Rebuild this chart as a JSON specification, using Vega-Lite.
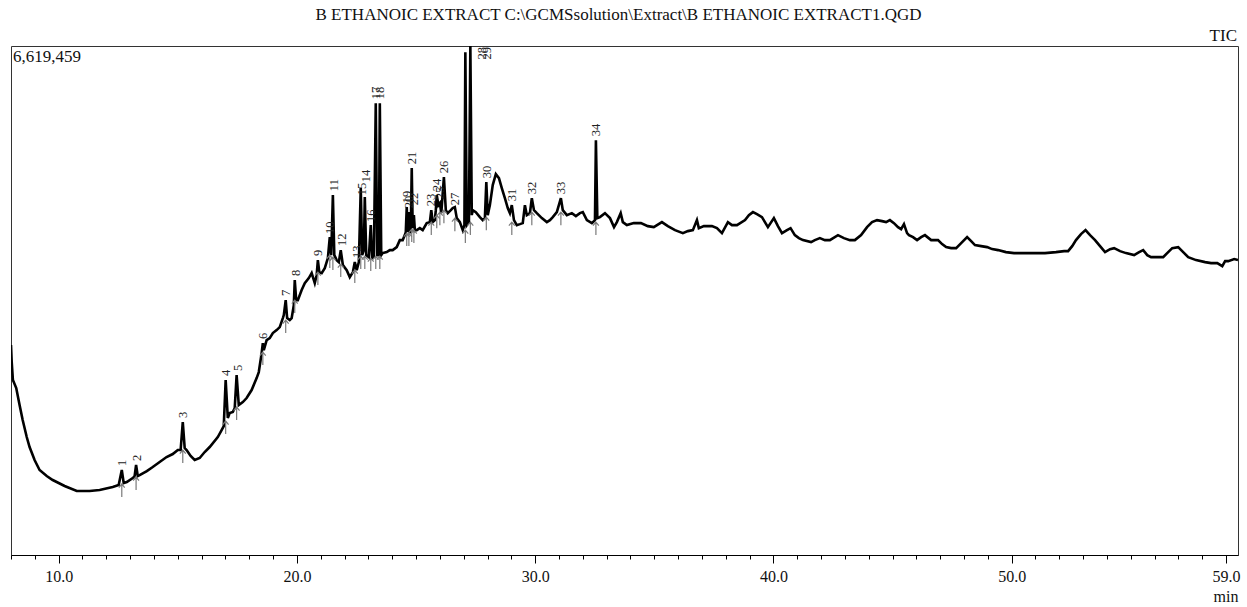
{
  "$schema": "https://vega.github.io/schema/vega-lite/v6.json",
  "autosize": "none",
  "padding": {"left": 11, "top": 46, "right": 9, "bottom": 52},
  "width": 1227,
  "height": 509,
  "background": "white",
  "title": {"text": "B ETHANOIC EXTRACT C:\\GCMSsolution\\Extract\\B ETHANOIC EXTRACT1.QGD", "font": "Liberation Serif", "fontSize": 17, "fontWeight": "normal", "color": "#111", "anchor": "middle", "frame": "group", "baseline": "alphabetic", "offset": -10, "dx": -6},
  "config": {"view": {"stroke": "#333", "strokeWidth": 1}},
  "datasets": {
    "curve": [
      {"t":8.00,"v":2730000},{"t":8.03,"v":2509000},{"t":8.08,"v":2275000},{"t":8.22,"v":2171000},{"t":8.36,"v":1950000},{"t":8.49,"v":1755000},{"t":8.66,"v":1534000},{"t":8.78,"v":1404000},{"t":8.99,"v":1235000},{"t":9.20,"v":1105000},{"t":9.50,"v":1027000},{"t":9.75,"v":975000},{"t":10.25,"v":897000},{"t":10.76,"v":832000},{"t":11.30,"v":832000},{"t":11.72,"v":845000},{"t":12.27,"v":884000},{"t":12.52,"v":910000},{"t":12.65,"v":1105000},{"t":12.73,"v":936000},{"t":12.86,"v":949000},{"t":13.11,"v":1001000},{"t":13.19,"v":1027000},{"t":13.25,"v":1170000},{"t":13.32,"v":1027000},{"t":13.40,"v":1040000},{"t":13.70,"v":1092000},{"t":13.95,"v":1144000},{"t":14.24,"v":1209000},{"t":14.53,"v":1274000},{"t":14.79,"v":1313000},{"t":15.00,"v":1365000},{"t":15.12,"v":1365000},{"t":15.21,"v":1729000},{"t":15.29,"v":1391000},{"t":15.37,"v":1365000},{"t":15.54,"v":1287000},{"t":15.71,"v":1235000},{"t":15.92,"v":1261000},{"t":16.13,"v":1339000},{"t":16.34,"v":1404000},{"t":16.68,"v":1534000},{"t":16.84,"v":1625000},{"t":16.93,"v":1677000},{"t":17.01,"v":2275000},{"t":17.10,"v":1781000},{"t":17.18,"v":1846000},{"t":17.31,"v":1859000},{"t":17.39,"v":1911000},{"t":17.47,"v":2340000},{"t":17.56,"v":1950000},{"t":17.73,"v":1989000},{"t":17.89,"v":2041000},{"t":18.10,"v":2145000},{"t":18.31,"v":2301000},{"t":18.40,"v":2379000},{"t":18.52,"v":2626000},{"t":18.57,"v":2756000},{"t":18.61,"v":2665000},{"t":18.73,"v":2795000},{"t":18.86,"v":2821000},{"t":18.99,"v":2886000},{"t":19.15,"v":2925000},{"t":19.28,"v":2964000},{"t":19.41,"v":3081000},{"t":19.45,"v":3120000},{"t":19.53,"v":3315000},{"t":19.59,"v":3081000},{"t":19.70,"v":3055000},{"t":19.78,"v":3081000},{"t":19.87,"v":3250000},{"t":19.91,"v":3575000},{"t":19.97,"v":3315000},{"t":20.04,"v":3315000},{"t":20.20,"v":3445000},{"t":20.33,"v":3536000},{"t":20.50,"v":3601000},{"t":20.62,"v":3666000},{"t":20.75,"v":3536000},{"t":20.83,"v":3640000},{"t":20.88,"v":3835000},{"t":20.94,"v":3679000},{"t":21.04,"v":3666000},{"t":21.17,"v":3731000},{"t":21.30,"v":3861000},{"t":21.38,"v":4134000},{"t":21.44,"v":3900000},{"t":21.51,"v":4680000},{"t":21.57,"v":3900000},{"t":21.67,"v":3835000},{"t":21.76,"v":3809000},{"t":21.84,"v":3965000},{"t":21.93,"v":3770000},{"t":22.09,"v":3705000},{"t":22.22,"v":3614000},{"t":22.35,"v":3679000},{"t":22.43,"v":3809000},{"t":22.51,"v":3705000},{"t":22.60,"v":3809000},{"t":22.68,"v":4771000},{"t":22.74,"v":3900000},{"t":22.81,"v":3965000},{"t":22.85,"v":4654000},{"t":22.91,"v":3900000},{"t":23.02,"v":3874000},{"t":23.10,"v":4290000},{"t":23.16,"v":3861000},{"t":23.23,"v":3874000},{"t":23.31,"v":5876000},{"t":23.37,"v":3900000},{"t":23.44,"v":3900000},{"t":23.48,"v":5876000},{"t":23.54,"v":3900000},{"t":23.60,"v":3926000},{"t":23.77,"v":3939000},{"t":23.90,"v":3965000},{"t":24.02,"v":3965000},{"t":24.19,"v":4004000},{"t":24.32,"v":4095000},{"t":24.44,"v":4095000},{"t":24.53,"v":4160000},{"t":24.57,"v":4199000},{"t":24.61,"v":4524000},{"t":24.65,"v":4199000},{"t":24.70,"v":4459000},{"t":24.74,"v":4186000},{"t":24.78,"v":4225000},{"t":24.82,"v":5031000},{"t":24.86,"v":4251000},{"t":24.91,"v":4420000},{"t":24.95,"v":4225000},{"t":25.03,"v":4225000},{"t":25.16,"v":4251000},{"t":25.28,"v":4225000},{"t":25.45,"v":4316000},{"t":25.58,"v":4329000},{"t":25.64,"v":4485000},{"t":25.70,"v":4329000},{"t":25.79,"v":4355000},{"t":25.83,"v":4485000},{"t":25.87,"v":4680000},{"t":25.94,"v":4550000},{"t":26.00,"v":4576000},{"t":26.06,"v":4446000},{"t":26.17,"v":4914000},{"t":26.25,"v":4485000},{"t":26.33,"v":4446000},{"t":26.46,"v":4485000},{"t":26.54,"v":4511000},{"t":26.63,"v":4524000},{"t":26.71,"v":4381000},{"t":26.84,"v":4329000},{"t":26.96,"v":4225000},{"t":27.03,"v":4290000},{"t":27.07,"v":6539000},{"t":27.13,"v":4290000},{"t":27.22,"v":4329000},{"t":27.28,"v":6619459},{"t":27.34,"v":4420000},{"t":27.38,"v":4485000},{"t":27.51,"v":4459000},{"t":27.68,"v":4394000},{"t":27.80,"v":4355000},{"t":27.89,"v":4381000},{"t":27.95,"v":4849000},{"t":28.01,"v":4420000},{"t":28.10,"v":4550000},{"t":28.22,"v":4810000},{"t":28.35,"v":4953000},{"t":28.48,"v":4901000},{"t":28.60,"v":4771000},{"t":28.73,"v":4641000},{"t":28.85,"v":4511000},{"t":28.94,"v":4446000},{"t":29.02,"v":4550000},{"t":29.11,"v":4355000},{"t":29.23,"v":4290000},{"t":29.36,"v":4303000},{"t":29.48,"v":4316000},{"t":29.57,"v":4550000},{"t":29.65,"v":4420000},{"t":29.78,"v":4446000},{"t":29.86,"v":4641000},{"t":29.95,"v":4485000},{"t":30.07,"v":4446000},{"t":30.28,"v":4381000},{"t":30.49,"v":4329000},{"t":30.62,"v":4355000},{"t":30.74,"v":4394000},{"t":30.91,"v":4459000},{"t":31.08,"v":4641000},{"t":31.16,"v":4485000},{"t":31.33,"v":4420000},{"t":31.54,"v":4446000},{"t":31.71,"v":4407000},{"t":31.88,"v":4446000},{"t":32.00,"v":4459000},{"t":32.17,"v":4355000},{"t":32.38,"v":4316000},{"t":32.51,"v":4355000},{"t":32.55,"v":5395000},{"t":32.61,"v":4381000},{"t":32.72,"v":4394000},{"t":32.93,"v":4446000},{"t":33.14,"v":4381000},{"t":33.31,"v":4264000},{"t":33.43,"v":4329000},{"t":33.59,"v":4446000},{"t":33.68,"v":4329000},{"t":33.85,"v":4290000},{"t":34.14,"v":4316000},{"t":34.44,"v":4316000},{"t":34.73,"v":4277000},{"t":34.98,"v":4264000},{"t":35.32,"v":4329000},{"t":35.57,"v":4277000},{"t":35.87,"v":4225000},{"t":36.20,"v":4186000},{"t":36.41,"v":4212000},{"t":36.62,"v":4225000},{"t":36.79,"v":4355000},{"t":36.87,"v":4251000},{"t":37.08,"v":4277000},{"t":37.42,"v":4277000},{"t":37.63,"v":4251000},{"t":37.84,"v":4186000},{"t":38.09,"v":4329000},{"t":38.26,"v":4290000},{"t":38.47,"v":4290000},{"t":38.81,"v":4355000},{"t":38.97,"v":4420000},{"t":39.14,"v":4459000},{"t":39.31,"v":4433000},{"t":39.52,"v":4394000},{"t":39.77,"v":4264000},{"t":40.02,"v":4381000},{"t":40.19,"v":4277000},{"t":40.36,"v":4186000},{"t":40.57,"v":4225000},{"t":40.72,"v":4251000},{"t":40.90,"v":4160000},{"t":41.07,"v":4121000},{"t":41.24,"v":4095000},{"t":41.58,"v":4069000},{"t":41.74,"v":4095000},{"t":41.95,"v":4121000},{"t":42.16,"v":4095000},{"t":42.37,"v":4095000},{"t":42.71,"v":4160000},{"t":42.96,"v":4121000},{"t":43.21,"v":4095000},{"t":43.42,"v":4095000},{"t":43.68,"v":4160000},{"t":43.93,"v":4264000},{"t":44.14,"v":4329000},{"t":44.35,"v":4355000},{"t":44.56,"v":4342000},{"t":44.73,"v":4329000},{"t":44.89,"v":4355000},{"t":45.06,"v":4316000},{"t":45.23,"v":4264000},{"t":45.36,"v":4238000},{"t":45.48,"v":4303000},{"t":45.61,"v":4186000},{"t":45.69,"v":4160000},{"t":45.86,"v":4134000},{"t":46.03,"v":4095000},{"t":46.20,"v":4134000},{"t":46.36,"v":4160000},{"t":46.62,"v":4095000},{"t":46.91,"v":4095000},{"t":47.08,"v":4043000},{"t":47.25,"v":4004000},{"t":47.46,"v":3991000},{"t":47.67,"v":3991000},{"t":47.88,"v":4056000},{"t":48.13,"v":4134000},{"t":48.30,"v":4082000},{"t":48.46,"v":4030000},{"t":48.72,"v":4017000},{"t":48.97,"v":4004000},{"t":49.18,"v":3978000},{"t":49.43,"v":3965000},{"t":49.76,"v":3939000},{"t":50.10,"v":3926000},{"t":50.52,"v":3926000},{"t":50.98,"v":3926000},{"t":51.40,"v":3926000},{"t":51.86,"v":3939000},{"t":52.20,"v":3952000},{"t":52.37,"v":3952000},{"t":52.54,"v":4017000},{"t":52.70,"v":4095000},{"t":52.91,"v":4173000},{"t":53.10,"v":4225000},{"t":53.29,"v":4160000},{"t":53.50,"v":4095000},{"t":53.71,"v":4017000},{"t":53.92,"v":3939000},{"t":54.13,"v":3978000},{"t":54.30,"v":3991000},{"t":54.55,"v":3952000},{"t":54.80,"v":3926000},{"t":55.14,"v":3900000},{"t":55.35,"v":3939000},{"t":55.52,"v":3965000},{"t":55.69,"v":3900000},{"t":55.85,"v":3874000},{"t":56.11,"v":3874000},{"t":56.36,"v":3874000},{"t":56.57,"v":3939000},{"t":56.74,"v":3991000},{"t":56.99,"v":4004000},{"t":57.20,"v":3939000},{"t":57.41,"v":3874000},{"t":57.74,"v":3835000},{"t":58.12,"v":3809000},{"t":58.37,"v":3796000},{"t":58.63,"v":3796000},{"t":58.84,"v":3757000},{"t":58.96,"v":3822000},{"t":59.09,"v":3822000},{"t":59.34,"v":3848000},{"t":59.50,"v":3835000}
    ],
    "peaks": [
      {"peak":1,"t":12.65,"base":923000},{"peak":2,"t":13.25,"base":1014000},{"peak":3,"t":15.21,"base":1365000},{"peak":4,"t":17.01,"base":1742000},{"peak":5,"t":17.47,"base":1924000},{"peak":6,"t":18.57,"base":2639000},{"peak":7,"t":19.53,"base":3055000},{"peak":8,"t":19.91,"base":3315000},{"peak":9,"t":20.88,"base":3679000},{"peak":10,"t":21.38,"base":3900000},{"peak":11,"t":21.51,"base":3874000},{"peak":12,"t":21.84,"base":3783000},{"peak":13,"t":22.43,"base":3705000},{"peak":14,"t":22.68,"base":3887000},{"peak":15,"t":22.85,"base":3887000},{"peak":16,"t":23.10,"base":3861000},{"peak":17,"t":23.31,"base":3887000},{"peak":18,"t":23.48,"base":3887000},{"peak":19,"t":24.61,"base":4186000},{"peak":20,"t":24.70,"base":4186000},{"peak":21,"t":24.82,"base":4238000},{"peak":22,"t":24.91,"base":4225000},{"peak":23,"t":25.64,"base":4329000},{"peak":24,"t":25.87,"base":4420000},{"peak":25,"t":26.00,"base":4459000},{"peak":26,"t":26.17,"base":4485000},{"peak":27,"t":26.63,"base":4381000},{"peak":28,"t":27.07,"base":4225000},{"peak":29,"t":27.28,"base":4329000},{"peak":30,"t":27.95,"base":4394000},{"peak":31,"t":29.02,"base":4329000},{"peak":32,"t":29.86,"base":4459000},{"peak":33,"t":31.08,"base":4459000},{"peak":34,"t":32.55,"base":4329000}
    ],
    "labels": [
      {"peak":1,"t":12.65,"v":1131000},{"peak":2,"t":13.28,"v":1196000},{"peak":3,"t":15.21,"v":1755000},{"peak":4,"t":17.01,"v":2301000},{"peak":5,"t":17.52,"v":2366000},{"peak":6,"t":18.57,"v":2782000},{"peak":7,"t":19.53,"v":3341000},{"peak":8,"t":19.95,"v":3601000},{"peak":9,"t":20.88,"v":3861000},{"peak":10,"t":21.38,"v":4147000},{"peak":11,"t":21.55,"v":4706000},{"peak":12,"t":21.88,"v":3991000},{"peak":13,"t":22.51,"v":3835000},{"peak":14,"t":22.89,"v":4823000},{"peak":15,"t":22.72,"v":4654000},{"peak":16,"t":23.10,"v":4303000},{"peak":17,"t":23.31,"v":5902000},{"peak":18,"t":23.48,"v":5902000},{"peak":19,"t":24.61,"v":4550000},{"peak":20,"t":24.70,"v":4485000},{"peak":21,"t":24.82,"v":5057000},{"peak":22,"t":24.91,"v":4524000},{"peak":23,"t":25.64,"v":4511000},{"peak":24,"t":25.87,"v":4706000},{"peak":25,"t":26.00,"v":4602000},{"peak":26,"t":26.17,"v":4940000},{"peak":27,"t":26.63,"v":4524000},{"peak":28,"t":27.76,"v":6619459},{"peak":29,"t":27.97,"v":6619459},{"peak":30,"t":27.97,"v":4875000},{"peak":31,"t":29.02,"v":4576000},{"peak":32,"t":29.86,"v":4667000},{"peak":33,"t":31.08,"v":4667000},{"peak":34,"t":32.55,"v":5421000}
    ],
    "notes": [
      {"t":59.5,"v":6619459,"text":"TIC","pos":"tic"},
      {"t":8.0,"v":6619459,"text":"6,619,459","pos":"max"}
    ]
  },
  "encoding": {
    "x": {"field": "t", "type": "quantitative", "scale": {"domain": [8.0, 59.5], "nice": false, "zero": false},
      "axis": {
        "values": [8,9,10,11,12,13,14,15,16,17,18,19,20,21,22,23,24,25,26,27,28,29,30,31,32,33,34,35,36,37,38,39,40,41,42,43,44,45,46,47,48,49,50,51,52,53,54,55,56,57,58,59],
        "labelExpr": "indexof([10,20,30,40,50,59], datum.value) >= 0 ? format(datum.value, '.1f') : ''",
        "tickSize": {"condition": {"test": "indexof([10,20,30,40,50,59], datum.value) >= 0", "value": 8}, "value": 4},
        "tickColor": "#000", "domainColor": "#000", "grid": false,
        "labelFont": "Liberation Serif", "labelFontSize": 16, "labelColor": "#111", "labelPadding": 5,
        "labelFlush": false, "labelOverlap": false,
        "title": "min", "titleFont": "Liberation Serif", "titleFontSize": 16, "titleFontWeight": "normal", "titleColor": "#111",
        "titleAnchor": "end", "titleAlign": "right", "titlePadding": 4
      }
    }
  },
  "layer": [
    {
      "data": {"name": "curve"},
      "mark": {"type": "line", "color": "#000", "strokeWidth": 2.6, "clip": true},
      "encoding": {"y": {"field": "v", "type": "quantitative", "scale": {"domain": [0, 6619459], "nice": false}, "axis": null}}
    },
    {
      "data": {"name": "peaks"},
      "mark": {"type": "point", "shape": "M0,0L0,2M-0.45,0.55L0,0L0.45,0.55", "size": 169, "filled": false, "stroke": "#7a7a7a", "strokeWidth": 1.2, "opacity": 1},
      "encoding": {"y": {"field": "base", "type": "quantitative"}}
    },
    {
      "data": {"name": "labels"},
      "transform": [{"filter": "datum.peak != 28 && datum.peak != 29"}],
      "mark": {"type": "text", "angle": 270, "align": "left", "baseline": "middle", "dx": 2, "font": "Liberation Serif", "fontSize": 12.5, "color": "#222"},
      "encoding": {"y": {"field": "v", "type": "quantitative"}, "text": {"field": "peak"}}
    },
    {
      "data": {"name": "labels"},
      "transform": [{"filter": "datum.peak == 28 || datum.peak == 29"}],
      "mark": {"type": "text", "angle": 270, "align": "right", "baseline": "middle", "dx": -1, "font": "Liberation Serif", "fontSize": 12.5, "color": "#222"},
      "encoding": {"y": {"field": "v", "type": "quantitative"}, "text": {"field": "peak"}}
    },
    {
      "data": {"name": "notes"},
      "transform": [{"filter": "datum.pos == 'tic'"}],
      "mark": {"type": "text", "align": "right", "baseline": "alphabetic", "dx": -1, "dy": -5, "font": "Liberation Serif", "fontSize": 17, "color": "#111"},
      "encoding": {"y": {"field": "v", "type": "quantitative"}, "text": {"field": "text"}}
    },
    {
      "data": {"name": "notes"},
      "transform": [{"filter": "datum.pos == 'max'"}],
      "mark": {"type": "text", "align": "left", "baseline": "alphabetic", "dx": 2, "dy": 16, "font": "Liberation Serif", "fontSize": 17, "color": "#111"},
      "encoding": {"y": {"field": "v", "type": "quantitative"}, "text": {"field": "text"}}
    }
  ]
}
